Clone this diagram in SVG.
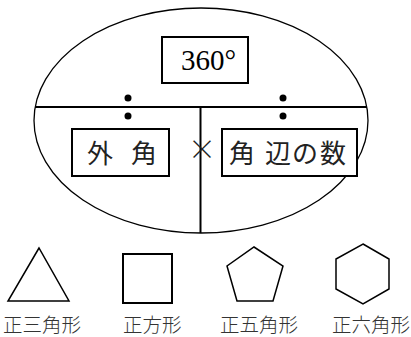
<svg xmlns="http://www.w3.org/2000/svg" width="411" height="337" viewBox="0 0 411 337">
<style>
.box{fill:#fff;stroke:#000;stroke-width:2}
.ln{stroke:#000;stroke-width:2;fill:none}
.shape{fill:none;stroke:#000;stroke-width:1.5}
.jp{font-family:"Noto Sans CJK JP","Noto Sans CJK SC",sans-serif;fill:#222}
.lbl{font-family:"Noto Sans CJK JP","Noto Sans CJK SC",sans-serif;fill:#333;font-size:19.5px;font-weight:300}
.num{font-family:"Liberation Serif","DejaVu Serif",serif;fill:#000}
.dot{fill:#000}
</style>
<rect width="411" height="337" fill="#fff"/>
<g id="ellipse">
<ellipse cx="201" cy="120.5" rx="167" ry="112.5" fill="none" stroke="#000" stroke-width="1.3"/>
</g>
<g id="connectors">
<line class="ln" x1="35" y1="107" x2="367" y2="107"/>
<line class="ln" x1="200.5" y1="107" x2="200.5" y2="233"/>
</g>
<g id="dots">
<circle class="dot" cx="128" cy="98" r="3.5"/>
<circle class="dot" cx="128" cy="116" r="3.5"/>
<circle class="dot" cx="283" cy="98" r="3.5"/>
<circle class="dot" cx="283" cy="116" r="3.5"/>
</g>
<g id="node-360">
<rect class="box" x="162" y="37" width="86" height="46"/>
<text class="num" x="181" y="70" font-size="29">360°</text>
</g>
<g id="node-gaikaku">
<rect class="box" x="72" y="129" width="97" height="47"/>
<text class="jp" x="87 131" y="163" font-size="26">外角</text>
</g>
<g id="times">
<text class="jp" x="202" y="160" font-size="28" text-anchor="middle" font-weight="300">×</text>
</g>
<g id="node-kakuhen">
<rect class="box" x="222" y="129" width="135" height="47"/>
<text class="jp" x="229 265 292 320" y="163" font-size="26">角辺の数</text>
</g>
<g id="triangle">
<polygon class="shape" points="39,248 8,301 69,301"/>
<text class="lbl" x="3" y="332">正三角形</text>
</g>
<g id="square">
<rect x="123" y="254" width="49" height="49" fill="none" stroke="#000" stroke-width="2"/>
<text class="lbl" x="123" y="332">正方形</text>
</g>
<g id="pentagon">
<polygon class="shape" points="254,247 283,266 273,301 237,301 227,266"/>
<text class="lbl" x="220" y="332">正五角形</text>
</g>
<g id="hexagon">
<polygon class="shape" points="363,244 389,259 389,289 363,304 336,289 336,259"/>
<text class="lbl" x="332" y="332">正六角形</text>
</g>
</svg>
